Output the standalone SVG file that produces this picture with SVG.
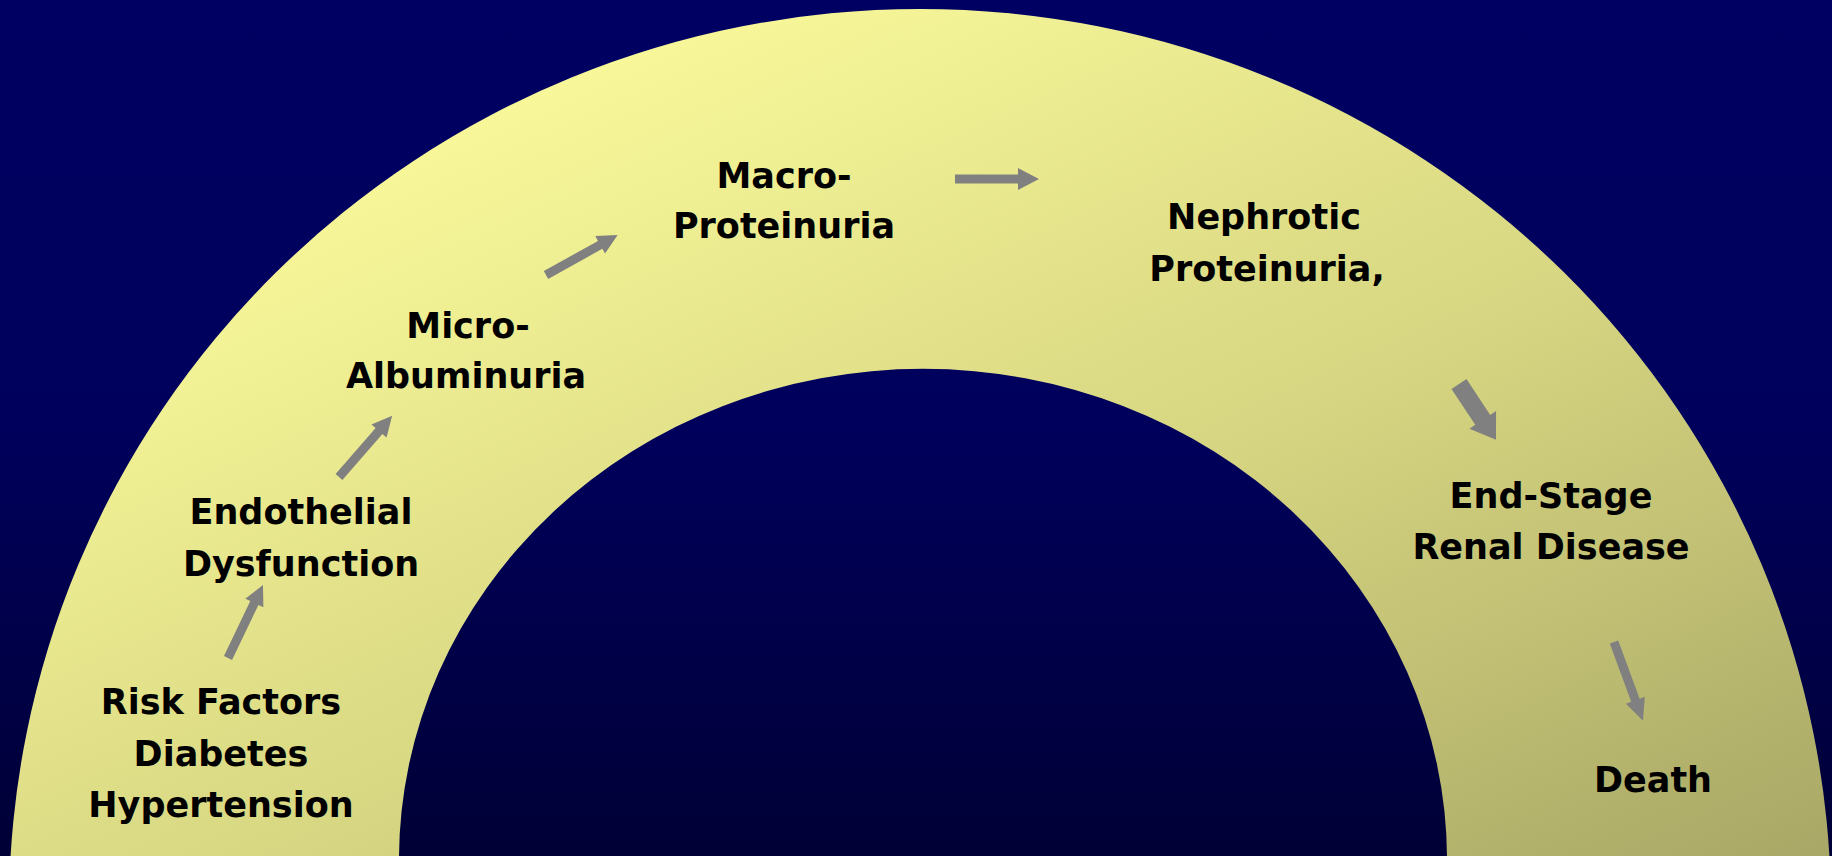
<svg xmlns="http://www.w3.org/2000/svg" width="1832" height="856" viewBox="0 0 1832 856">
  <defs>
    <linearGradient id="bg" x1="0" y1="0" x2="0" y2="856" gradientUnits="userSpaceOnUse">
      <stop offset="0" stop-color="#000062"/>
      <stop offset="0.5" stop-color="#00005C"/>
      <stop offset="1" stop-color="#000036"/>
    </linearGradient>
    <linearGradient id="arch" x1="400" y1="150" x2="905" y2="1265" gradientUnits="userSpaceOnUse">
      <stop offset="0" stop-color="#F8F89A"/>
      <stop offset="0.5" stop-color="#D6D581"/>
      <stop offset="1" stop-color="#A9A866"/>
    </linearGradient>
    <style>
      .lbl { font-family: "DejaVu Sans", Verdana, sans-serif; font-weight: bold; font-size: 35px; fill: #000000; text-anchor: middle; }
      .arr { fill: #808080; }
    </style>
  </defs>
  <rect x="0" y="0" width="1832" height="856" fill="url(#bg)"/>
  <path id="arch-shape" fill="url(#arch)" fill-rule="evenodd"
        d="M 9 909 A 911 900 0 1 1 1831 909 A 911 900 0 1 1 9 909 Z
           M 399 860 A 524 491 0 1 1 1447 860 A 524 491 0 1 1 399 860 Z"/>

  <g id="connectors">
    <g transform="translate(228,658) rotate(-64.4)"><polygon class="arr" points="0,-4.5 61,-4.5 61,-10 81,0 61,10 61,4.5 0,4.5"/></g>
    <g transform="translate(339,477) rotate(-49)"><polygon class="arr" points="0,-4.5 61,-4.5 61,-10 81,0 61,10 61,4.5 0,4.5"/></g>
    <g transform="translate(546,275) rotate(-29.1)"><polygon class="arr" points="0,-4.5 62,-4.5 62,-10 82,0 62,10 62,4.5 0,4.5"/></g>
    <g transform="translate(955,179)"><polygon class="arr" points="0,-4.5 63,-4.5 63,-11 84,0 63,11 63,4.5 0,4.5"/></g>
    <g transform="translate(1459,384) rotate(56.5)"><polygon class="arr" points="0,-9 43,-9 43,-16 67,0 43,16 43,9 0,9"/></g>
    <g transform="translate(1614,642) rotate(69.8)"><polygon class="arr" points="0,-4.5 62,-4.5 62,-10 84,0 62,10 62,4.5 0,4.5"/></g>
  </g>

  <g id="node-risk">
    <text class="lbl" x="221" y="714">Risk Factors</text>
    <text class="lbl" x="221" y="766">Diabetes</text>
    <text class="lbl" x="221" y="817">Hypertension</text>
  </g>
  <g id="node-endothelial">
    <text class="lbl" x="301" y="524">Endothelial</text>
    <text class="lbl" x="301" y="576">Dysfunction</text>
  </g>
  <g id="node-micro">
    <text class="lbl" x="468" y="338">Micro-</text>
    <text class="lbl" x="466" y="388">Albuminuria</text>
  </g>
  <g id="node-macro">
    <text class="lbl" x="784" y="188">Macro-</text>
    <text class="lbl" x="784" y="238">Proteinuria</text>
  </g>
  <g id="node-nephrotic">
    <text class="lbl" x="1264" y="229">Nephrotic</text>
    <text class="lbl" x="1267" y="281">Proteinuria,</text>
  </g>
  <g id="node-esrd">
    <text class="lbl" x="1551" y="508">End-Stage</text>
    <text class="lbl" x="1551" y="559">Renal Disease</text>
  </g>
  <g id="node-death">
    <text class="lbl" x="1653" y="792">Death</text>
  </g>
</svg>
